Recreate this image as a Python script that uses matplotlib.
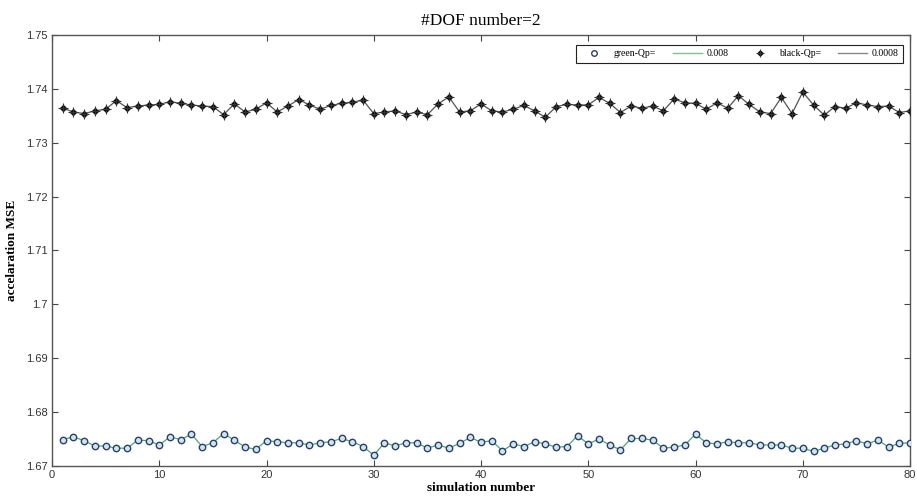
import numpy as np
import matplotlib
matplotlib.use("Agg")
import matplotlib.pyplot as plt
from matplotlib.lines import Line2D
from matplotlib.legend_handler import HandlerTuple
from matplotlib.ticker import FuncFormatter

# simulation index 1..80
sim_number = list(range(1, 81))

# acceleration MSE, Qp = 0.008 (green)
mse_green = [
    1.6749, 1.6754, 1.6747, 1.6737, 1.6737, 1.6733, 1.6733, 1.6748, 1.6747, 1.6739,
    1.6754, 1.6749, 1.6759, 1.6736, 1.6743, 1.6760, 1.6748, 1.6735, 1.6731, 1.6747,
    1.6745, 1.6743, 1.6743, 1.6739, 1.6743, 1.6745, 1.6751, 1.6745, 1.6736, 1.6720,
    1.6743, 1.6737, 1.6743, 1.6743, 1.6733, 1.6739, 1.6733, 1.6742, 1.6753, 1.6744,
    1.6747, 1.6728, 1.6741, 1.6736, 1.6745, 1.6741, 1.6735, 1.6736, 1.6756, 1.6741,
    1.6750, 1.6739, 1.6730, 1.6751, 1.6751, 1.6748, 1.6733, 1.6735, 1.6739, 1.6759,
    1.6743, 1.6741, 1.6745, 1.6743, 1.6743, 1.6739, 1.6739, 1.6739, 1.6733, 1.6733,
    1.6727, 1.6733, 1.6739, 1.6741, 1.6747, 1.6741, 1.6748, 1.6735, 1.6742, 1.6743,
]

# acceleration MSE, Qp = 0.0008 (black)
mse_black = [
    1.7364, 1.7357, 1.7354, 1.7359, 1.7362, 1.7378, 1.7365, 1.7368, 1.7370, 1.7371,
    1.7376, 1.7373, 1.7370, 1.7368, 1.7367, 1.7352, 1.7372, 1.7357, 1.7362, 1.7374,
    1.7357, 1.7368, 1.7380, 1.7370, 1.7362, 1.7369, 1.7373, 1.7375, 1.7379, 1.7354,
    1.7357, 1.7359, 1.7352, 1.7357, 1.7352, 1.7372, 1.7385, 1.7357, 1.7359, 1.7372,
    1.7359, 1.7357, 1.7362, 1.7369, 1.7359, 1.7347, 1.7367, 1.7371, 1.7370, 1.7370,
    1.7384, 1.7373, 1.7356, 1.7368, 1.7364, 1.7368, 1.7359, 1.7381, 1.7374, 1.7373,
    1.7362, 1.7374, 1.7364, 1.7387, 1.7371, 1.7357, 1.7354, 1.7384, 1.7354, 1.7394,
    1.7370, 1.7351, 1.7367, 1.7364, 1.7374, 1.7370, 1.7367, 1.7368, 1.7356, 1.7359,
]

legend_labels = ["green-Qp=", "0.008", "black-Qp=", "0.0008"]
x_ticks = [0, 10, 20, 30, 40, 50, 60, 70, 80]
y_ticks = [1.67, 1.68, 1.69, 1.70, 1.71, 1.72, 1.73, 1.74, 1.75]

serif = ["Liberation Serif", "DejaVu Serif"]
sans = ["Liberation Sans", "DejaVu Sans"]

fig = plt.figure(figsize=(9.17, 5.03), dpi=100)
ax = fig.add_axes([0.0567, 0.0736, 0.9357, 0.857])

# lines first, markers on top
ax.plot(sim_number, mse_green, color="#4aa86a", linewidth=0.9, zorder=2)
ax.plot(sim_number, mse_green, linestyle="none", marker="o", markersize=4.6,
        markerfacecolor="#cfe6ea", markeredgecolor="#2b3f6e",
        markeredgewidth=1.0, zorder=3)
ax.plot(sim_number, mse_black, color="#555555", linewidth=0.9, zorder=2)
# asterisk-like marker: small solid diamond with a thin cross
ax.plot(sim_number, mse_black, linestyle="none", marker="D", markersize=3,
        color="#111111", zorder=3)
ax.plot(sim_number, mse_black, linestyle="none", marker="+", markersize=6.5,
        color="#333333", markeredgewidth=0.8, zorder=3)

ax.set_xlim(0, 80)
ax.set_ylim(1.67, 1.75)
ax.set_xticks(x_ticks)
ax.set_yticks(y_ticks)
ax.yaxis.set_major_formatter(FuncFormatter(lambda v, p: f"{v:g}"))
ax.tick_params(direction="in", length=4, width=0.8, top=True, right=True,
               labelsize=8, colors="#444444", labelcolor="#333333", pad=3)
for lab in ax.get_xticklabels() + ax.get_yticklabels():
    lab.set_family(sans)
for sp in ax.spines.values():
    sp.set_color("#555555")
    sp.set_linewidth(1.0)

ax.set_title("#DOF number=2", family=serif, fontsize=12.5, pad=7)
ax.set_xlabel("simulation number", family=serif, fontsize=9.5,
              fontweight="bold", labelpad=1)
ax.set_ylabel("accelaration MSE", family=serif, fontsize=9.5,
              fontweight="bold", labelpad=6)

black_mark = (
    Line2D([], [], linestyle="none", marker="D", markersize=2.6, color="#111111"),
    Line2D([], [], linestyle="none", marker="+", markersize=5.5,
           color="#333333", markeredgewidth=0.7),
)
handles = [
    Line2D([], [], linestyle="none", marker="o", markersize=4,
           markerfacecolor="white", markeredgecolor="#2b3f6e"),
    Line2D([], [], color="#7cc48a", linewidth=1.0),
    black_mark,
    Line2D([], [], color="#888888", linewidth=1.0),
]
leg = ax.legend(handles, legend_labels, ncol=4, loc="upper right",
                bbox_to_anchor=(0.9977, 0.988),
                prop={"family": serif, "size": 7},
                handler_map={tuple: HandlerTuple(ndivide=1, pad=0)},
                handlelength=3.0, handletextpad=0.5, columnspacing=1.7,
                borderpad=0.45, fancybox=False, framealpha=1,
                edgecolor="#222222")
leg.get_frame().set_linewidth(0.8)

fig.savefig("out.png", dpi=100)
